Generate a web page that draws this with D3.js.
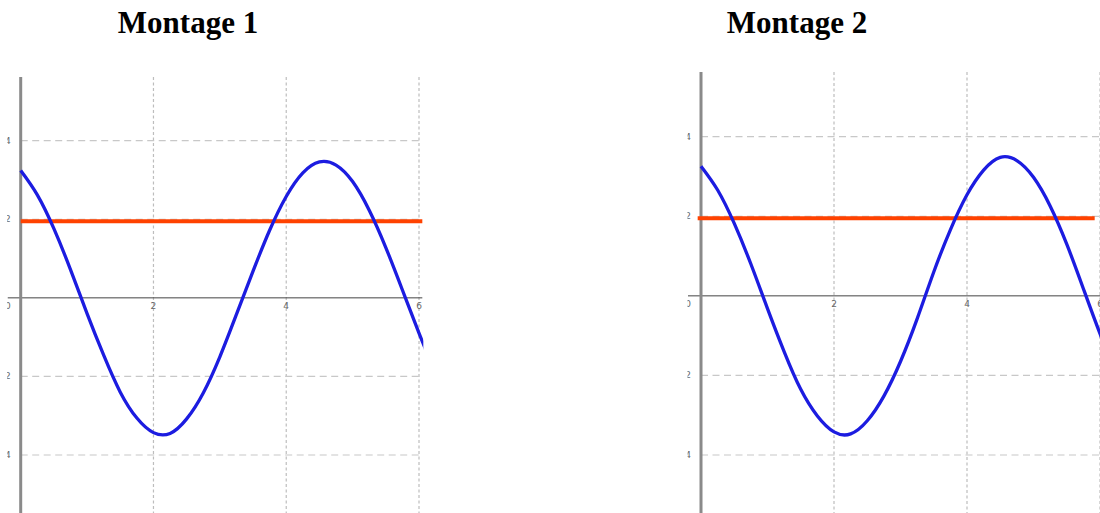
<!DOCTYPE html>
<meta charset="utf-8">
<script src="https://d3js.org/d3.v7.min.js"></script>
<style>
  body { margin: 0; background: #fff; }
  .title { font-family: "Liberation Serif", "Times New Roman", serif; font-weight: bold; font-size: 31px; }
  .tick { font-family: "DejaVu Sans", sans-serif; font-size: 9px; fill: #666; }
</style>
<div id="chart"></div>
<script>

// x positions of the sampled curve (same for both panels)
var xs = [0, 0.25, 0.5, 0.75, 1, 1.25, 1.5, 1.75, 2, 2.25, 2.5, 2.75, 3, 3.25, 3.5,
          3.75, 4, 4.25, 4.5, 4.75, 5, 5.25, 5.5, 5.75, 6, 6.25];

// values
var montage1 = [3.24, 2.62, 1.76, 0.72, -0.40, -1.46, -2.40, -3.06, -3.43, -3.45, -3.08,
                -2.42, -1.50, -0.42, 0.68, 1.72, 2.58, 3.18, 3.46, 3.38, 2.96, 2.23,
                1.28, 0.20, -0.90, -1.95];
var montage2 = [3.26, 2.66, 1.82, 0.80, -0.32, -1.40, -2.35, -3.02, -3.42, -3.47, -3.14,
                -2.52, -1.65, -0.58, 0.60, 1.66, 2.54, 3.16, 3.48, 3.40, 2.98, 2.26,
                1.30, 0.18, -0.95, -1.98];

var level1 = 1.95, level2 = 1.95;       // red horizontal line
var xTicks = [2, 4, 6];
var yTicks = [4, 2, -2, -4];
var titles = ["Montage 1", "Montage 2"];

var W = 1100, H = 513;

var svg = d3.select("#chart").append("svg")
    .attr("width", W)
    .attr("height", H);

var panels = [
  { title: titles[0], values: montage1, level: level1, titleX: 188,
    x: d3.scaleLinear().domain([0, 6]).range([20.7, 419]),
    y: d3.scaleLinear().domain([-4, 4]).range([455, 140.7]),
    top: 77, xEnd: 6.05, redFrom: 0, redTo: 6.05 },
  { title: titles[1], values: montage2, level: level2, titleX: 797,
    x: d3.scaleLinear().domain([0, 6]).range([701, 1100]),
    y: d3.scaleLinear().domain([-4, 4]).range([455, 136.7]),
    top: 72, xEnd: 6.05, redFrom: -0.05, redTo: 5.92 }
];

var defs = svg.append("defs");

panels.forEach(function(p, i) {
  var x = p.x, y = p.y;
  var x0 = x(0);

  svg.append("text")
    .attr("class", "title")
    .attr("x", p.titleX)
    .attr("y", 33)
    .attr("text-anchor", "middle")
    .text(p.title);

  // screenshot crop
  defs.append("clipPath").attr("id", "clip" + i)
    .append("rect")
      .attr("x", x0 - 13.5).attr("y", p.top - 5)
      .attr("width", x(p.xEnd) - x0 + 16).attr("height", H);

  var g = svg.append("g").attr("clip-path", "url(#clip" + i + ")");

  // grid
  g.selectAll(".vgrid").data(xTicks).enter().append("line")
    .attr("x1", d => x(d)).attr("x2", d => x(d))
    .attr("y1", p.top).attr("y2", H)
    .attr("stroke", "#bdbdbd")
    .attr("stroke-width", 1.2)
    .attr("stroke-dasharray", "3,2.5");

  g.selectAll(".hgrid").data(yTicks).enter().append("line")
    .attr("x1", x0).attr("x2", x(p.xEnd))
    .attr("y1", d => y(d)).attr("y2", d => y(d))
    .attr("stroke", "#c8c8c8")
    .attr("stroke-width", 1.2)
    .attr("stroke-dasharray", "7,4.5");

  // axes
  g.append("line")
    .attr("x1", x0 - 13).attr("x2", x(p.xEnd))
    .attr("y1", y(0)).attr("y2", y(0))
    .attr("stroke", "#444").attr("stroke-width", 1);

  g.append("line")
    .attr("x1", x0).attr("x2", x0)
    .attr("y1", p.top).attr("y2", H)
    .attr("stroke", "#8a8a8a").attr("stroke-width", 3);

  // tick labels
  g.selectAll(".xl").data(xTicks).enter().append("text")
    .attr("class", "tick")
    .attr("x", d => x(d)).attr("y", y(0) + 11)
    .attr("text-anchor", "middle")
    .text(d => d);

  g.selectAll(".yl").data(yTicks).enter().append("text")
    .attr("class", "tick")
    .attr("x", x0 - 10).attr("y", d => y(d) + 3)
    .attr("text-anchor", "end")
    .text(d => d);

  g.append("text")
    .attr("class", "tick")
    .attr("x", x0 - 10).attr("y", y(0) + 11)
    .attr("text-anchor", "end")
    .text("0");

  // red constant line
  g.append("line")
    .attr("x1", x(p.redFrom)).attr("x2", x(p.redTo))
    .attr("y1", y(p.level)).attr("y2", y(p.level))
    .attr("stroke", "#ff4200")
    .attr("stroke-width", 4);

  // blue curve, cut at the edge of the screenshot
  var pts = xs.map((d, k) => [d, p.values[k]]);
  var clipC = "clipc" + i;
  defs.append("clipPath").attr("id", clipC)
    .append("rect")
      .attr("x", x0 - 2).attr("y", 0)
      .attr("width", x(p.xEnd) - x0 + 3).attr("height", H);
  g.append("path")
    .datum(pts)
    .attr("clip-path", "url(#" + clipC + ")")
    .attr("fill", "none")
    .attr("stroke", "#1c1ce0")
    .attr("stroke-width", 3.3)
    .attr("d", d3.line()
      .x(d => x(d[0]))
      .y(d => y(d[1]))
      .curve(d3.curveNatural));
});

</script>
